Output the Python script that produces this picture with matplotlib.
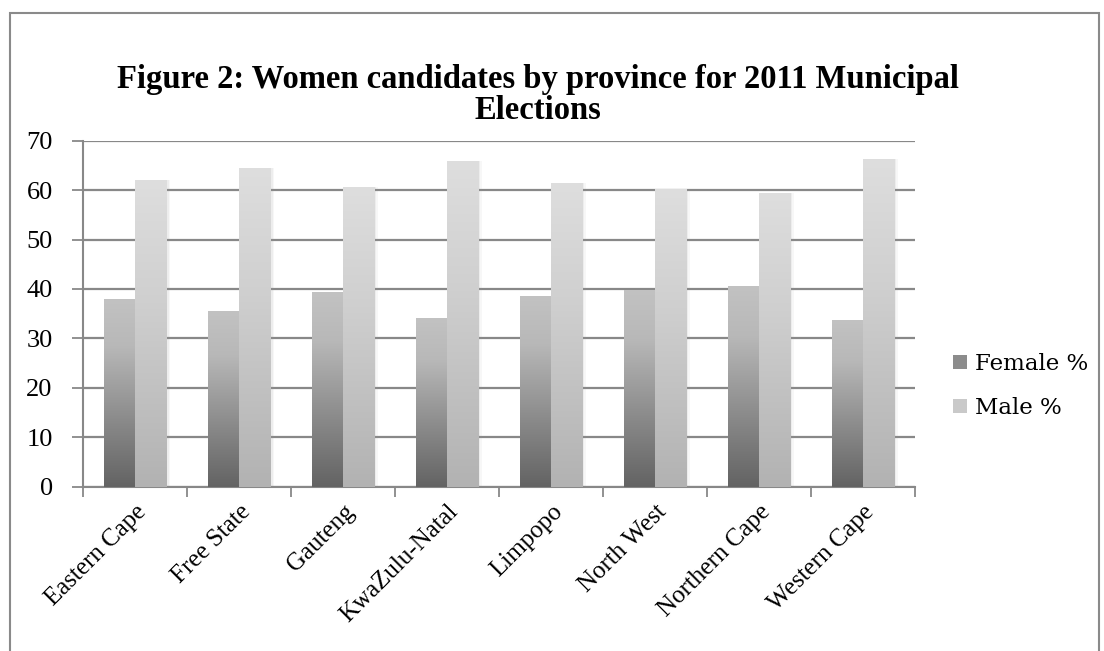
import numpy as np
import matplotlib
matplotlib.use("Agg")
import matplotlib.pyplot as plt
from matplotlib.colors import LinearSegmentedColormap
from matplotlib.patches import Rectangle, Patch

provinces = ["Eastern Cape", "Free State", "Gauteng", "KwaZulu-Natal",
             "Limpopo", "North West", "Northern Cape", "Western Cape"]
female_pct = [37.9, 35.6, 39.3, 34.1, 38.6, 39.8, 40.6, 33.8]
male_pct = [62.1, 64.4, 60.6, 65.9, 61.4, 60.2, 59.4, 66.2]
series_names = ["Female %", "Male %"]
yticks = [0, 10, 20, 30, 40, 50, 60, 70]
title = "Figure 2: Women candidates by province for 2011 Municipal\nElections"

W, H = 1104, 651
fig = plt.figure(figsize=(W / 100, H / 100), dpi=100)
fig.patch.set_facecolor("white")

# outer chart border
fig.patches.append(Rectangle((10 / W, -0.05), 1089 / W, 1.05 - 13 / H,
                             transform=fig.transFigure, fill=False,
                             edgecolor="#8a8a8a", linewidth=1.5))

ax = fig.add_axes([83.3 / W, 1 - 486.7 / H, (915 - 83.3) / W, (486.7 - 140.7) / H])

x = np.arange(len(provinces))
bw = 0.3
grid_c = "#888888"

fem_cmap = LinearSegmentedColormap.from_list(
    "fem", [(0.0, "#636363"), (0.35, "#8a8a8a"), (0.75, "#b8b8b8"), (1.0, "#c2c2c2")])
male_cmap = LinearSegmentedColormap.from_list(
    "male", [(0.0, "#b2b2b2"), (0.6, "#cfcfcf"), (1.0, "#dedede")])

bars_f = ax.bar(x - bw / 2, female_pct, bw, color="none", linewidth=0, zorder=3)
bars_m = ax.bar(x + bw / 2, male_pct, bw, color="none", linewidth=0, zorder=3)

grad = np.linspace(0, 1, 256).reshape(-1, 1)
for bars, cmap in ((bars_f, fem_cmap), (bars_m, male_cmap)):
    for p in bars:
        x0, w, h = p.get_x(), p.get_width(), p.get_height()
        # soft shadow
        for k, a in ((0.035, 0.08), (0.02, 0.10)):
            ax.add_patch(Rectangle((x0 + k, 0), w, h, facecolor="#9a9a9a",
                                   alpha=a, linewidth=0, zorder=2))
        im = ax.imshow(grad, extent=[x0, x0 + w, 0, h], origin="lower",
                       cmap=cmap, aspect="auto", zorder=3, interpolation="bicubic")
        im.set_clip_path(p)

ax.set_xlim(-0.5, len(provinces) - 0.5)
ax.set_ylim(0, 70)

ax.set_yticks(yticks)
ax.set_yticklabels([str(v) for v in yticks], fontfamily="Liberation Serif", fontsize=19)
ax.yaxis.grid(True, color=grid_c, linewidth=1.6, zorder=1)
ax.set_axisbelow(True)
ax.tick_params(axis="y", length=8, width=1.3, color=grid_c, pad=14)

ax.set_xticks(x)
ax.set_xticklabels(provinces, rotation=45, ha="right", rotation_mode="anchor",
                   fontfamily="Liberation Serif", fontsize=18)
ax.set_xticks(np.arange(-0.5, len(provinces) + 0.5, 1), minor=True)
ax.tick_params(axis="x", which="major", length=0, pad=10)
ax.tick_params(axis="x", which="minor", length=7, width=1.3, color=grid_c, direction="out")

for s in ("top", "right"):
    ax.spines[s].set_visible(False)
for s in ("left", "bottom"):
    ax.spines[s].set_color(grid_c)
    ax.spines[s].set_linewidth(1.5)

fig.text(538 / W, 1 - 95 / H, title, ha="center", va="center",
         fontfamily="Liberation Serif", fontweight="bold", fontsize=23.5,
         linespacing=1.0)

handles = [Patch(facecolor="#8c8c8c", edgecolor="none"),
           Patch(facecolor="#c9c9c9", edgecolor="none")]
fig.legend(handles, series_names, loc="center left",
           bbox_to_anchor=(953 / W, 1 - 386 / H), frameon=False,
           prop={"family": "DejaVu Serif", "size": 16.5},
           handlelength=0.6, handleheight=0.6, handletextpad=0.35,
           labelspacing=0.95, borderaxespad=0, borderpad=0)

fig.savefig("out.png", dpi=100)
